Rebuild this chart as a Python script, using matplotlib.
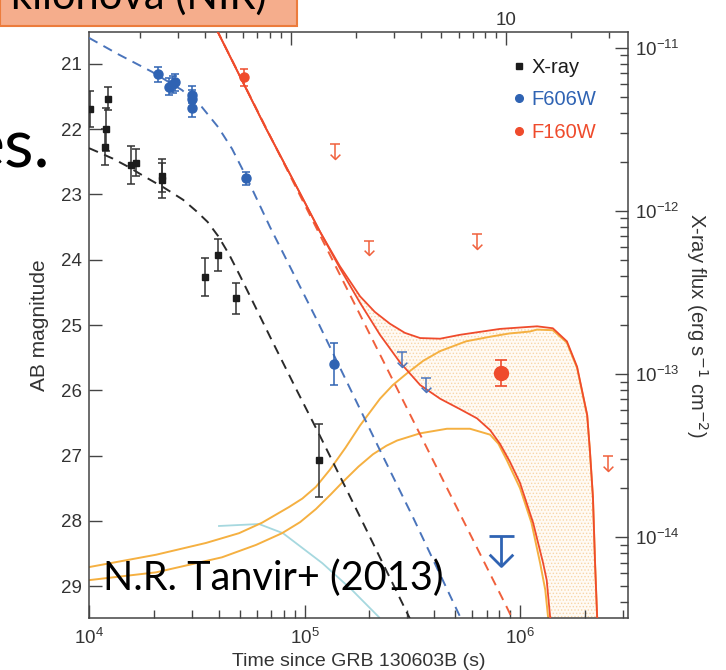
import matplotlib
matplotlib.use("Agg")
import matplotlib.pyplot as plt
import matplotlib.ticker as mticker
from matplotlib.lines import Line2D
from matplotlib.patches import Rectangle
from matplotlib.path import Path

# ---------------- data ----------------
# X-ray points (converted to AB magnitude scale)
xray_t = [1.01e4, 1.22e4, 1.20e4, 1.19e4, 1.57e4, 1.65e4, 2.19e4, 2.17e4, 3.47e4, 3.98e4, 4.80e4, 1.17e5]
xray_mag = [21.69, 21.53, 22.00, 22.27, 22.55, 22.51, 22.71, 22.78, 24.26, 23.93, 24.59, 27.07]
xray_err = [0.28, 0.18, 0.33, 0.28, 0.29, 0.20, 0.25, 0.27, 0.29, 0.25, 0.24, 0.56]

# F606W detections
f606_t = [2.10e4, 2.36e4, 2.45e4, 2.51e4, 3.00e4, 3.00e4, 3.02e4, 5.33e4, 1.37e5]
f606_mag = [21.16, 21.35, 21.31, 21.28, 21.47, 21.53, 21.67, 22.75, 25.60]
f606_err = [0.12, 0.13, 0.13, 0.13, 0.13, 0.13, 0.15, 0.10, 0.32]
# F606W upper limits
f606_lim_t = [2.83e5, 3.65e5]
f606_lim_mag = [25.42, 25.81]
f606_deep_lim_t = [8.13e5]
f606_deep_lim_mag = [28.24]

# F160W detections
f160_t = [5.24e4]
f160_mag = [21.20]
f160_err = [0.13]
f160_late_t = [8.17e5]
f160_late_mag = [25.73]
f160_late_err = [0.20]
# F160W upper limits
f160_lim_t = [1.38e5, 1.99e5, 6.30e5, 2.55e6]
f160_lim_mag = [22.23, 23.71, 23.61, 27.01]

# model curves
xray_model_t = [1.00e4, 1.12e4, 1.29e4, 1.51e4, 1.82e4, 2.24e4, 2.73e4, 3.16e4, 3.55e4, 3.98e4, 4.47e4,
                5.01e4, 5.75e4, 6.92e4, 9.14e4, 1.18e5, 1.81e5, 2.99e5, 3.16e5]
xray_model_mag = [22.29, 22.36, 22.45, 22.57, 22.73, 22.90, 23.08, 23.26, 23.42, 23.64, 23.92,
                  24.24, 24.64, 25.18, 25.98, 26.70, 27.94, 29.41, 29.57]

f606_model_t = [1.00e4, 1.365e4, 1.96e4, 2.70e4, 3.34e4, 3.98e4, 4.61e4, 5.41e4, 6.92e4, 1.14e5,
                2.24e5, 3.18e5, 5.27e5]
f606_model_mag = [20.60, 20.85, 21.12, 21.40, 21.66, 21.97, 22.30, 22.75, 23.50, 24.92,
                  26.92, 27.94, 29.47]

f160_afterglow_t = [3.92e4, 1.84e5, 8.67e5, 9.18e5]
f160_afterglow_mag = [20.48, 24.89, 29.32, 29.49]

f160_total_hi_t = [3.92e4, 6.56e4, 9.53e4, 1.18e5, 1.46e5, 1.81e5, 2.12e5, 2.49e5, 2.92e5, 3.44e5,
                   4.26e5, 5.27e5, 8.07e5, 1.20e6, 1.42e6, 1.65e6, 1.84e6, 2.05e6, 2.11e6, 2.18e6,
                   2.23e6, 2.28e6, 2.29e6]
f160_total_hi_mag = [20.48, 21.96, 22.98, 23.57, 24.10, 24.56, 24.80, 24.98, 25.12, 25.20,
                     25.21, 25.15, 25.06, 25.02, 25.05, 25.25, 25.64, 26.38, 26.92, 27.64,
                     28.65, 29.47, 29.60]

f160_total_lo_t = [3.92e4, 6.56e4, 9.53e4, 1.18e5, 1.46e5, 1.81e5, 2.24e5, 2.77e5, 3.44e5, 4.26e5,
                   5.27e5, 6.31e5, 7.26e5, 8.07e5, 8.99e5, 1.00e6, 1.15e6, 1.28e6, 1.33e6, 1.38e6, 1.39e6]
f160_total_lo_mag = [20.48, 21.96, 22.98, 23.57, 24.13, 24.66, 25.15, 25.57, 25.92, 26.13,
                     26.29, 26.43, 26.61, 26.82, 27.10, 27.42, 28.03, 28.65, 28.91, 29.48, 29.60]

kn_hi_t = [1.0e4, 2.05e4, 3.49e4, 4.97e4, 6.35e4, 8.47e4, 9.77e4, 1.13e5, 1.31e5, 1.55e5, 1.81e5,
           2.24e5, 2.57e5, 2.99e5, 3.55e5, 4.26e5, 5.62e5, 7.26e5, 8.91e5, 1.11e6, 1.20e6, 1.42e6,
           1.65e6, 1.84e6, 2.05e6, 2.11e6, 2.18e6, 2.23e6, 2.28e6, 2.29e6]
kn_hi_mag = [28.71, 28.52, 28.34, 28.19, 28.03, 27.79, 27.66, 27.48, 27.22, 26.88, 26.54,
             26.13, 25.92, 25.74, 25.55, 25.40, 25.25, 25.18, 25.13, 25.10, 25.07, 25.08,
             25.27, 25.66, 26.39, 26.93, 27.65, 28.66, 29.49, 29.60]

kn_lo_t = [1.0e4, 2.05e4, 4.14e4, 5.96e4, 7.87e4, 9.55e4, 1.13e5, 1.32e5, 1.49e5, 1.78e5, 2.08e5,
           2.40e5, 2.69e5, 3.44e5, 4.58e5, 5.86e5, 7.26e5, 7.94e5, 8.71e5, 1.00e6, 1.13e6, 1.24e6,
           1.31e6, 1.35e6, 1.36e6]
kn_lo_mag = [28.91, 28.79, 28.56, 28.37, 28.19, 28.02, 27.82, 27.60, 27.42, 27.17, 26.98,
             26.85, 26.77, 26.66, 26.59, 26.59, 26.68, 26.82, 27.08, 27.50, 28.03, 28.65,
             29.06, 29.48, 29.60]

cyan_t = [4.01e4, 6.15e4, 7.94e4, 1.21e5, 1.66e5, 2.22e5]
cyan_mag = [28.08, 28.05, 28.19, 28.65, 29.06, 29.48]

legend_labels = ["X-ray", "F606W", "F160W"]

# ---------------- style ----------------
BLACK = "#1c1c1c"
BLUE = "#2f63b3"
BLUE_L = "#4a74bb"
RED = "#ef4b2c"
RED_L = "#f0603c"
ORANGE = "#f5b041"
CYAN = "#a6d8df"
AXC = "#444444"
TXT = "#333333"

plt.rcParams["font.family"] = ["Liberation Sans", "DejaVu Sans"]
plt.rcParams["hatch.linewidth"] = 0.6

W, H = 726, 670
fig = plt.figure(figsize=(W / 100, H / 100), dpi=100)
L, R, T, B = 89, 627.7, 32, 618
ax = fig.add_axes([L / W, (H - B) / H, (R - L) / W, (B - T) / H])

XMIN, XMAX = 1e4, 3.16e6
YBOT, YTOP = 29.49, 20.51
ax.set_xscale("log")
ax.set_xlim(XMIN, XMAX)
ax.set_ylim(YBOT, YTOP)

# shaded kilonova range between upper and lower total curves
i0 = f160_total_hi_t.index(1.18e5)
j0 = f160_total_lo_t.index(1.18e5)
poly_t = f160_total_hi_t[i0:] + f160_total_lo_t[j0:][::-1]
poly_m = f160_total_hi_mag[i0:] + f160_total_lo_mag[j0:][::-1]
ax.fill(poly_t, poly_m, facecolor="#fffaf4", edgecolor="#f8d6a8", hatch=".....", lw=0, zorder=1)

# model lines
ax.plot(cyan_t, cyan_mag, color=CYAN, lw=1.3, zorder=2)
ax.plot(kn_hi_t, kn_hi_mag, color=ORANGE, lw=1.4, zorder=2)
ax.plot(kn_lo_t, kn_lo_mag, color=ORANGE, lw=1.4, zorder=2)
dash = (0, (5, 3.5))
ax.plot(xray_model_t, xray_model_mag, color="#2a2a2a", lw=1.4, ls=dash, zorder=3)
ax.plot(f606_model_t, f606_model_mag, color=BLUE_L, lw=1.4, ls=dash, zorder=3)
ax.plot(f160_afterglow_t, f160_afterglow_mag, color=RED_L, lw=1.4, ls=dash, zorder=3)
ax.plot(f160_total_lo_t, f160_total_lo_mag, color=RED, lw=1.3, zorder=4)
ax.plot(f160_total_hi_t, f160_total_hi_mag, color=RED, lw=1.3, zorder=4)

# data points
ax.errorbar(xray_t, xray_mag, yerr=xray_err, fmt="s", ms=4, color=BLACK, ecolor="#333333",
            elinewidth=1.1, capsize=3, capthick=1.1, zorder=6)
ax.errorbar(f606_t, f606_mag, yerr=f606_err, fmt="o", ms=6.5, color=BLUE, ecolor=BLUE,
            elinewidth=1.1, capsize=3, capthick=1.1, zorder=6)
ax.errorbar(f160_t, f160_mag, yerr=f160_err, fmt="o", ms=6.5, color=RED, ecolor=RED,
            elinewidth=1.1, capsize=3, capthick=1.1, zorder=6)
ax.errorbar(f160_late_t, f160_late_mag, yerr=f160_late_err, fmt="o", ms=10, color=RED, ecolor=RED,
            elinewidth=1.2, capsize=4.5, capthick=1.2, zorder=6)

VPATH = Path([(-1, 1), (0, 0), (1, 1)], [Path.MOVETO, Path.LINETO, Path.LINETO])


def upper_limits(t, m, color, bar, length, head, lw):
    tips = [mi + length for mi in m]
    ax.plot(t, m, ls="none", marker="_", ms=bar, mew=lw, color=color, zorder=6)
    ax.vlines(t, m, tips, color=color, lw=lw, zorder=6)
    ax.plot(t, tips, ls="none", marker=VPATH, ms=head, mfc="none", mec=color, mew=lw, zorder=6)


upper_limits(f160_lim_t, f160_lim_mag, RED_L, 7.5, 0.22, 7.0, 1.1)
upper_limits(f606_lim_t, f606_lim_mag, BLUE_L, 7.5, 0.22, 7.0, 1.1)
upper_limits(f606_deep_lim_t, f606_deep_lim_mag, BLUE, 18, 0.46, 17, 2.0)

# axes styling
for s in ax.spines.values():
    s.set_color(AXC)
    s.set_linewidth(1.1)
ax.set_yticks(range(21, 30))
ax.yaxis.set_minor_locator(mticker.NullLocator())
ax.xaxis.set_major_locator(mticker.LogLocator(base=10, numticks=10))
ax.xaxis.set_minor_locator(mticker.LogLocator(base=10, subs=range(2, 10), numticks=20))
ax.xaxis.set_minor_formatter(mticker.NullFormatter())
ax.tick_params(which="both", direction="in", colors=AXC, labelcolor=TXT, labelsize=13.5, width=1.0)
ax.tick_params(which="major", length=9.5)
ax.tick_params(which="minor", length=5.5)
ax.tick_params(axis="x", pad=7)
ax.tick_params(axis="y", pad=5)
ax.set_xlabel("Time since GRB 130603B (s)", fontsize=14, color=TXT, labelpad=4)
ax.set_ylabel("AB magnitude", fontsize=15, color=TXT, labelpad=9)

# right axis: X-ray flux
axr = ax.twinx()
axr.set_yscale("log")
axr.set_ylim(3.2e-15, 1.25e-11)
axr.yaxis.set_major_locator(mticker.LogLocator(base=10, numticks=10))
axr.yaxis.set_minor_locator(mticker.LogLocator(base=10, subs=range(2, 10), numticks=20))
axr.yaxis.set_minor_formatter(mticker.NullFormatter())
axr.tick_params(which="both", direction="in", colors=AXC, labelcolor=TXT, labelsize=13.5, width=1.0, pad=5)
axr.tick_params(which="major", length=9.5)
axr.tick_params(which="minor", length=5.5)
axr.set_ylabel("X-ray flux (erg s$^{-1}$ cm$^{-2}$)", fontsize=14.5, color=TXT, rotation=270,
               va="bottom", labelpad=3)
for s in axr.spines.values():
    s.set_visible(False)

# top axis: time in days
axt = ax.twiny()
axt.set_xscale("log")
axt.set_xlim(XMIN / 86400, XMAX / 86400)
axt.xaxis.set_major_locator(mticker.FixedLocator([1, 10]))
axt.xaxis.set_major_formatter(mticker.FixedFormatter(["1", "10"]))
axt.xaxis.set_minor_locator(mticker.LogLocator(base=10, subs=range(2, 10), numticks=20))
axt.xaxis.set_minor_formatter(mticker.NullFormatter())
axt.tick_params(which="both", direction="in", colors=AXC, labelcolor=TXT, labelsize=13.5, width=1.0, pad=2)
axt.tick_params(which="major", length=9.5)
axt.tick_params(which="minor", length=4.5)
for s in axt.spines.values():
    s.set_visible(False)

# legend
handles = [Line2D([], [], ls="none", marker="s", ms=4, color=BLACK),
           Line2D([], [], ls="none", marker="o", ms=5.5, color=BLUE),
           Line2D([], [], ls="none", marker="o", ms=5.5, color=RED)]
ax.legend(handles, legend_labels, loc="upper left", bbox_to_anchor=(0.772, 0.970), frameon=False,
          fontsize=14.5, handlelength=0.6, handletextpad=0.3, labelspacing=0.68,
          labelcolor=[BLACK, BLUE, RED], borderaxespad=0)

# slide overlays
fig.patches.append(Rectangle((0, 1 - 26 / H), 297 / W, 26 / H + 0.01, transform=fig.transFigure,
                             facecolor="#f5ad8c", edgecolor="#ec7c3c", lw=1.5, zorder=10))
fig.text(267 / W, 1 - 9 / H, "kilonova (NIR)", ha="right", va="baseline", fontsize=30,
         family=["Lato", "DejaVu Sans"], color="black", zorder=11)
fig.text(50 / W, 1 - 167 / H, "es.", ha="right", va="baseline", fontsize=49,
         family=["Lato", "DejaVu Sans"], color="black", zorder=11)
fig.text(103 / W, 1 - 590 / H, "N.R. Tanvir+ (2013)", ha="left", va="baseline", fontsize=28.5,
         family=["Lato", "DejaVu Sans"], color="black", zorder=11)

fig.savefig("out.png", dpi=100)
